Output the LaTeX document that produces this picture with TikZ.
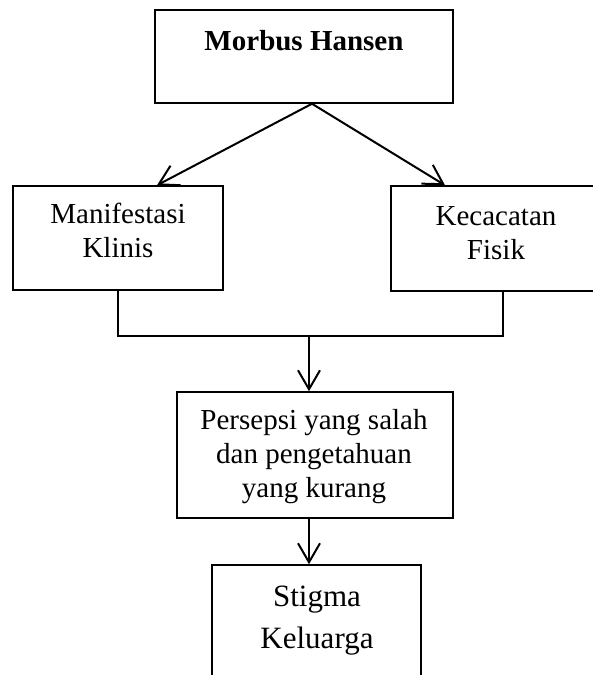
\documentclass[tikz,border=0pt]{standalone}
\usepackage{fontspec}
\setmainfont{Liberation Serif}
\usetikzlibrary{arrows.meta}

\begin{document}
\begin{tikzpicture}[x=1pt,y=-1pt,>={Straight Barb[length=19pt,width=22pt]},
  box/.style={draw,line width=1.5pt,inner sep=0pt},
  txt/.style={anchor=base,align=center,inner sep=0pt,font=\fontsize{29}{34}\selectfont},
  link/.style={line width=2pt}]
\useasboundingbox (0,0) rectangle (592,675);

  % boxes
  \node[box,minimum width=298,minimum height=93]  (mh) at (304,56.5)  {};
  \node[box,minimum width=210,minimum height=104] (mk) at (118,238)   {};
  \node[box,minimum width=209,minimum height=105] (kf) at (495.5,238.5) {};
  \node[box,minimum width=276,minimum height=126] (ps) at (315,455)   {};
  \node[box,minimum width=209,minimum height=125] (sk) at (316.5,627.5) {};

  % texts (base = baseline of the last line)
  \node[txt] (mhtext) at (304,50)    {\textbf{Morbus Hansen}};
  \node[txt] (mktext) at (118,257)   {Manifestasi\\Klinis};
  \node[txt] (kftext) at (496,259)   {Kecacatan\\Fisik};
  \node[txt] (pstext) at (314,497.5) {Persepsi yang salah\\dan pengetahuan\\yang kurang};
  \node[txt,font=\fontsize{31}{41.5}\selectfont] (sktext) at (317,648) {Stigma\\Keluarga};

  \coordinate (jn) at (309,336);

  \draw[link,->] ([xshift=8pt]mh.south) -- ([xshift=39pt]mk.north);
  \draw[link,->] ([xshift=8pt]mh.south) -- ([xshift=-50.5pt]kf.north);
  \draw[link] (mk.south) |- (jn) -| ([xshift=7.5pt]kf.south);
  \draw[link,->] (jn) -- (jn |- ps.north);
  \draw[link,->] (ps.south -| jn) -- (sk.north -| jn);
\end{tikzpicture}
\end{document}
